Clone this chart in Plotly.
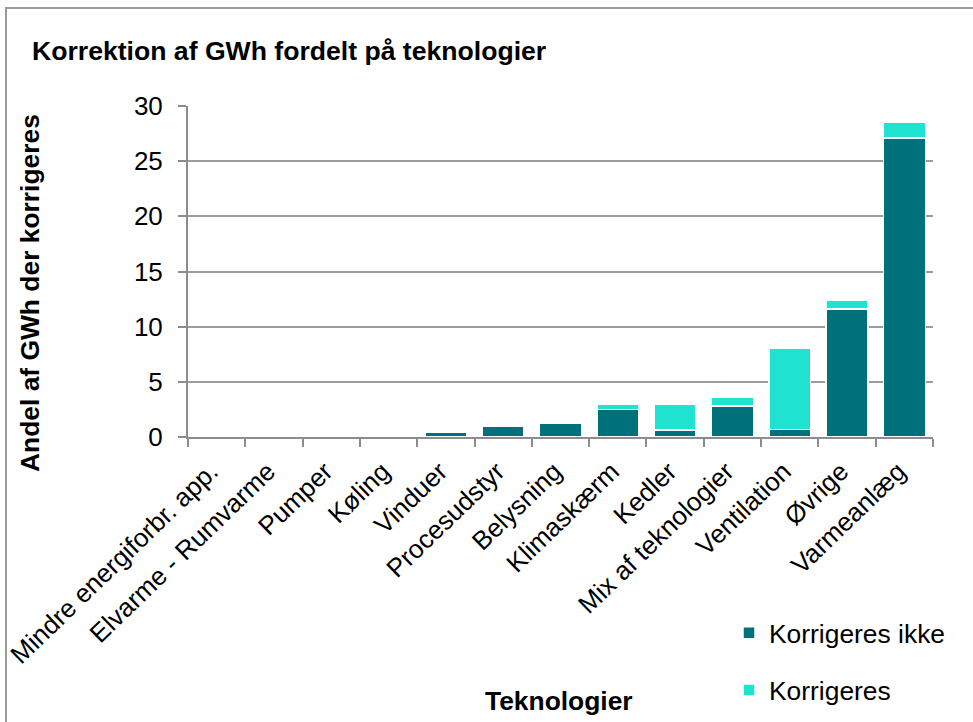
import plotly.graph_objects as go

categories = ["Mindre energiforbr. app.", "Elvarme - Rumvarme", "Pumper", "Køling",
              "Vinduer", "Procesudstyr", "Belysning", "Klimaskærm", "Kedler",
              "Mix af teknologier", "Ventilation", "Øvrige", "Varmeanlæg"]
korrigeres_ikke = [0, 0, 0.02, 0.15, 0.4, 0.95, 1.25, 2.5, 0.65, 2.8, 0.7, 11.6, 27.1]
korrigeres = [0, 0, 0, 0.02, 0, 0, 0, 0.5, 2.35, 0.8, 7.3, 0.8, 1.4]
y_ticks = [0, 5, 10, 15, 20, 25, 30]

DARK = "#00717b"
LIGHT = "#1fe2d0"
FONT = "Liberation Sans"

fig = go.Figure()
fig.add_trace(go.Bar(x=categories, y=korrigeres_ikke, name="Korrigeres ikke",
                     marker=dict(color=DARK, line=dict(color="white", width=1.5)),
                     legendgroup="a", width=0.73))
fig.add_trace(go.Bar(x=categories, y=korrigeres, name="Korrigeres",
                     marker=dict(color=LIGHT, line=dict(color="white", width=1.5)),
                     legendgroup="b", width=0.73))

L, R, T, B = 188, 40, 106, 285
W, H = 973, 722
pw, ph = W - L - R, H - T - B

def px_x(x):
    return (x - L) / pw

def px_y(y):
    return (H - B - y) / ph

fig.update_layout(
    template="none",
    width=W, height=H,
    barmode="stack",
    margin=dict(l=L, r=R, t=T, b=B, pad=0),
    paper_bgcolor="white", plot_bgcolor="white",
    font=dict(family=FONT, size=26, color="black"),
    showlegend=True,
    legend=dict(xref="paper", yref="container",
                x=px_x(729), y=1 - 609 / H, xanchor="left", yanchor="top",
                traceorder="grouped", tracegroupgap=20,
                font=dict(family=FONT, size=26.4, color="black"),
                bgcolor="rgba(0,0,0,0)"),
    xaxis=dict(type="category", tickangle=-44, showgrid=False, automargin=False,
               showline=True, linecolor="#8c8c8c", linewidth=2,
               ticks="outside", tickson="boundaries", ticklen=8, tickcolor="#8c8c8c",
               tickwidth=2, ticklabelshift=-6, ticklabelstandoff=7,
               tickfont=dict(family=FONT, size=26, color="black")),
    yaxis=dict(range=[0, 30], tickvals=y_ticks, showgrid=True, gridcolor="#9c9c9c",
               gridwidth=2, showline=True, linecolor="#8c8c8c", linewidth=2,
               ticks="outside", ticklen=8, tickcolor="#8c8c8c", tickwidth=2,
               ticklabelstandoff=10, automargin=False,
               zeroline=False, tickfont=dict(family=FONT, size=26, color="black")),
    shapes=[dict(type="rect", xref="paper", yref="paper",
                 x0=px_x(6), y0=-3, x1=3, y1=px_y(8),
                 line=dict(color="#9a9a9a", width=2), fillcolor="rgba(0,0,0,0)")],
    annotations=[
        dict(text="<b>Korrektion af GWh fordelt på teknologier</b>", xref="paper", yref="paper",
             x=px_x(30), y=px_y(51), xanchor="left", yanchor="middle", showarrow=False,
             font=dict(family=FONT, size=26.6, color="black")),
        dict(text="<b>Andel af GWh der korrigeres</b>", xref="paper", yref="paper",
             x=px_x(30), y=px_y(293), xanchor="center", yanchor="middle", showarrow=False,
             textangle=-90, font=dict(family=FONT, size=26.4, color="black")),
        dict(text="<b>Teknologier</b>", xref="paper", yref="paper",
             x=px_x(559), y=px_y(701), xanchor="center", yanchor="middle", showarrow=False,
             font=dict(family=FONT, size=26.4, color="black")),
    ],
)

fig.write_html("out.html", config={"displayModeBar": False},
               post_script="document.body.style.margin='0';")
